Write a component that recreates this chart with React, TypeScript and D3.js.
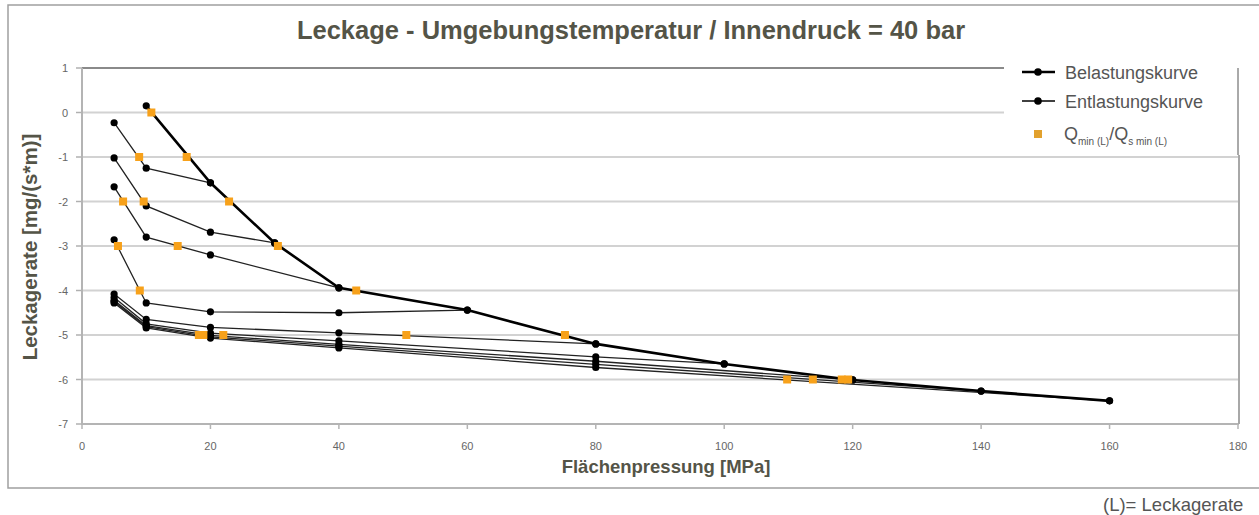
import React from "react";
import * as d3 from "d3";

// ---- Data ----
const xTicks = [0, 20, 40, 60, 80, 100, 120, 140, 160, 180];
const yTicks = [1, 0, -1, -2, -3, -4, -5, -6, -7];
const yTickLabels = ["1", "0", "-1", "-2", "-3", "-4", "-5", "-6", "-7"];

// Belastungskurve (loading curve): Flächenpressung [MPa] / log10 leakage
const loadP = [10, 20, 30, 40, 60, 80, 100, 120, 140, 160];
const loadL = [0.15, -1.58, -2.93, -3.94, -4.44, -5.2, -5.65, -6.01, -6.26, -6.48];

// Entlastungskurven (unloading curves)
const unload20P = [20, 10, 5];
const unload20L = [-1.58, -1.25, -0.23];
const unload30P = [30, 20, 10, 5];
const unload30L = [-2.93, -2.69, -2.1, -1.02];
const unload40P = [40, 20, 10, 5];
const unload40L = [-3.94, -3.2, -2.8, -1.67];
const unload60P = [60, 40, 20, 10, 5];
const unload60L = [-4.44, -4.5, -4.48, -4.28, -2.86];
const unload80P = [80, 40, 20, 10, 5];
const unload80L = [-5.2, -4.95, -4.83, -4.65, -4.08];
const unload100P = [100, 80, 40, 20, 10, 5];
const unload100L = [-5.65, -5.49, -5.13, -4.96, -4.75, -4.16];
const unload120P = [120, 80, 40, 20, 10, 5];
const unload120L = [-6.01, -5.59, -5.21, -5.01, -4.79, -4.22];
const unload140P = [140, 80, 40, 20, 10, 5];
const unload140L = [-6.26, -5.66, -5.25, -5.04, -4.81, -4.25];
const unload160P = [160, 80, 40, 20, 10, 5];
const unload160L = [-6.48, -5.73, -5.29, -5.07, -4.84, -4.28];

// Q min (L) / Q s min (L) points
const qminP = [10.8, 16.3, 8.9, 22.9, 9.6, 6.4, 30.5, 14.9, 5.6, 42.7, 9.0, 75.2, 50.5, 18.2, 18.9, 22.0, 109.8, 113.8, 118.3, 119.3];
const qminL = [0, -1, -1, -2, -2, -2, -3, -3, -3, -4, -4, -5, -5, -5, -5, -5, -6, -6, -6, -6];

const unloadP = [unload20P, unload30P, unload40P, unload60P, unload80P, unload100P, unload120P, unload140P, unload160P];
const unloadL = [unload20L, unload30L, unload40L, unload60L, unload80L, unload100L, unload120L, unload140L, unload160L];

const FONT = "'Liberation Sans', Arial, sans-serif";

export default function App() {
  const W = 1259, H = 515;
  const x = d3.scaleLinear().domain([0, 180]).range([82, 1238]);
  const y = d3.scaleLinear().domain([-7, 1]).range([424, 68]);
  const line = d3.line<[number, number]>().x((d) => x(d[0])).y((d) => y(d[1]));

  const loadPts: [number, number][] = loadP.map((p, i) => [p, loadL[i]]);
  const unloadPts: [number, number][][] = unloadP.map((ps, k) => ps.map((p, i) => [p, unloadL[k][i]] as [number, number]));

  return (
    <svg width={W} height={H} style={{ position: "absolute", left: 0, top: 0, background: "#fff" }} fontFamily={FONT}>
      {/* outer frame */}
      <path d={`M1262,5 H8 V488 H1262`} fill="none" stroke="#a0a0a0" strokeWidth={1.5} />

      {/* title */}
      <text x={631} y={39} textAnchor="middle" fontSize={25.5} fontWeight="bold" fill="#545447">
        Leckage - Umgebungstemperatur / Innendruck = 40 bar
      </text>

      {/* grid */}
      {yTicks.map((t) => (
        <line key={t} x1={x(0)} x2={x(180)} y1={y(t)} y2={y(t)} stroke={t === 1 ? "#8a8a8a" : "#d2d2d2"} strokeWidth={t === 1 ? 1.8 : 2} />
      ))}
      {/* y ticks */}
      {yTicks.map((t, i) => (
        <g key={"yt" + t}>
          <line x1={76} x2={x(0)} y1={y(t)} y2={y(t)} stroke="#b0b0b0" strokeWidth={1.5} />
          <text x={68} y={y(t) + 4} textAnchor="end" fontSize={11} fill="#666">
            {yTickLabels[i]}
          </text>
        </g>
      ))}
      {/* axes */}
      <line x1={x(0)} x2={x(0)} y1={y(1)} y2={y(-7) + 1} stroke="#b4b4b4" strokeWidth={2} />
      <line x1={x(0)} x2={x(180) + 1} y1={y(-7)} y2={y(-7)} stroke="#b4b4b4" strokeWidth={2} />
      <line x1={x(180) + 1} x2={x(180) + 1} y1={155} y2={y(-7)} stroke="#a8a8a8" strokeWidth={2} />
      {xTicks.map((t) => (
        <g key={"xt" + t}>
          <line x1={x(t)} x2={x(t)} y1={y(-7)} y2={y(-7) + 5} stroke="#b4b4b4" strokeWidth={1.5} />
          <text x={x(t)} y={450} textAnchor="middle" fontSize={11} fill="#666">
            {t}
          </text>
        </g>
      ))}

      {/* axis labels */}
      <text x={666} y={473} textAnchor="middle" fontSize={18.5} fontWeight="bold" fill="#545447">
        Flächenpressung [MPa]
      </text>
      <text transform={`translate(37,247) rotate(-90)`} textAnchor="middle" fontSize={20.5} fontWeight="bold" fill="#545447">
        Leckagerate [mg/(s*m)]
      </text>

      {/* unloading curves */}
      {unloadPts.map((pts, k) => (
        <path key={"u" + k} d={line(pts) || ""} fill="none" stroke="#222" strokeWidth={1.3} />
      ))}
      {/* loading curve */}
      <path d={line(loadPts) || ""} fill="none" stroke="#000" strokeWidth={2.6} />

      {/* dots */}
      {unloadPts.flat().map((d, i) => (
        <circle key={"ud" + i} cx={x(d[0])} cy={y(d[1])} r={3.6} fill="#000" />
      ))}
      {loadPts.map((d, i) => (
        <circle key={"ld" + i} cx={x(d[0])} cy={y(d[1])} r={3.6} fill="#000" />
      ))}

      {/* Qmin markers */}
      {qminP.map((p, i) => (
        <rect key={"q" + i} x={x(p) - 4} y={y(qminL[i]) - 4} width={8} height={8} fill="#F7A11A" />
      ))}

      {/* legend */}
      <rect x={1004} y={56} width={234} height={99} fill="#fff" />
      <line x1={1238} x2={1238} y1={68} y2={155} stroke="#555" strokeWidth={1} />
      <line x1={1022} x2={1055} y1={72} y2={72} stroke="#000" strokeWidth={2.6} />
      <circle cx={1038} cy={72} r={3.8} fill="#000" />
      <text x={1065} y={79} fontSize={18} fill="#555">Belastungskurve</text>
      <line x1={1022} x2={1055} y1={101} y2={101} stroke="#000" strokeWidth={1.5} />
      <circle cx={1038} cy={101} r={3.8} fill="#000" />
      <text x={1065} y={108} fontSize={18} fill="#555">Entlastungskurve</text>
      <rect x={1034} y={130} width={8} height={8} fill="#E2A12D" />
      <text x={1064} y={140} fontSize={18} fill="#555">
        Q<tspan fontSize={10} dy={5}>min (L)</tspan>
        <tspan dy={-5}>/Q</tspan>
        <tspan fontSize={10} dy={5}>s min (L)</tspan>
      </text>

      {/* footnote */}
      <text x={1103} y={511} fontSize={18.5} fill="#555">(L)= Leckagerate</text>
    </svg>
  );
}
